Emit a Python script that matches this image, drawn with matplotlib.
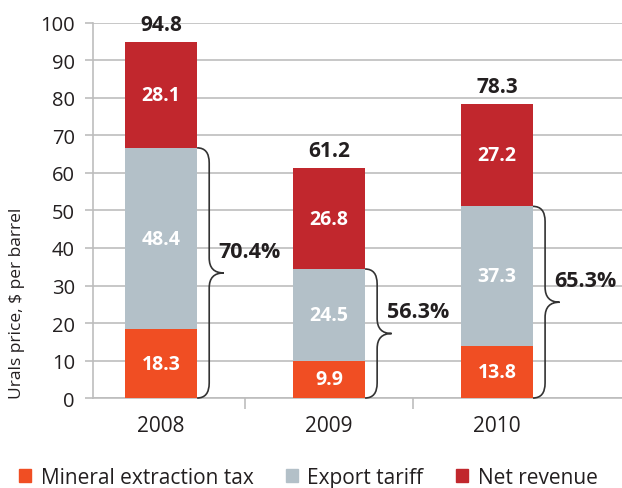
import matplotlib
matplotlib.use('Agg')
import matplotlib.pyplot as plt
from matplotlib.path import Path
from matplotlib.patches import PathPatch, Patch
import numpy as np

plt.rcParams['font.family'] = ['Open Sans', 'DejaVu Sans']

years = ['2008', '2009', '2010']
mineral_tax = [18.3, 9.9, 13.8]
export_tariff = [48.4, 24.5, 37.3]
net_revenue = [28.1, 26.8, 27.2]
totals = [94.8, 61.2, 78.3]
tax_share = ['70.4%', '56.3%', '65.3%']

c_tax = '#F04E23'
c_tariff = '#B3C0C8'
c_net = '#C1272D'
grid_c = '#BDBDBD'
txt_c = '#231F20'


def brace(ax, x0, y0, y1, half_w=0.072, tip_w=0.158, r=4.0):
    ym = (y0 + y1) / 2
    xm = x0 + half_w
    xt = x0 + tip_w
    verts = [(x0, y1),
             (xm, y1), (xm, y1 - r),
             (xm, ym + r),
             (xm, ym), (xt, ym),
             (xm, ym), (xm, ym - r),
             (xm, y0 + r),
             (xm, y0), (x0, y0)]
    codes = [Path.MOVETO,
             Path.CURVE3, Path.CURVE3,
             Path.LINETO,
             Path.CURVE3, Path.CURVE3,
             Path.CURVE3, Path.CURVE3,
             Path.LINETO,
             Path.CURVE3, Path.CURVE3]
    ax.add_patch(PathPatch(Path(verts, codes), fill=False, lw=1.2,
                           edgecolor='#333333', clip_on=False, zorder=4))
    return xt, ym


fig = plt.figure(figsize=(6.22, 4.89), dpi=100)
ax = fig.add_axes([0.1495, 0.184, 0.8505, 0.767])

x = np.arange(len(years))
w = 0.43
mineral_tax = np.array(mineral_tax)
export_tariff = np.array(export_tariff)
net_revenue = np.array(net_revenue)

ax.bar(x, mineral_tax, w, color=c_tax, zorder=3)
ax.bar(x, export_tariff, w, bottom=mineral_tax, color=c_tariff, zorder=3)
ax.bar(x, net_revenue, w, bottom=mineral_tax + export_tariff, color=c_net, zorder=3)

lab_kw = dict(ha='center', va='center', color='white', fontsize=14, fontweight='bold', zorder=5)
for i in range(len(years)):
    ax.text(x[i], mineral_tax[i] / 2, f'{mineral_tax[i]:.1f}', **lab_kw)
    ax.text(x[i], mineral_tax[i] + export_tariff[i] / 2, f'{export_tariff[i]:.1f}', **lab_kw)
    ax.text(x[i], mineral_tax[i] + export_tariff[i] + net_revenue[i] / 2, f'{net_revenue[i]:.1f}', **lab_kw)
    ax.text(x[i], totals[i] + 3.2, f'{totals[i]:.1f}', ha='center', va='baseline',
            fontsize=15, fontweight='bold', color=txt_c, clip_on=False)
    xt, ym = brace(ax, x[i] + w / 2, 0, mineral_tax[i] + export_tariff[i])
    ax.text(xt - 0.03, ym + 5.8, tax_share[i], ha='left', va='center',
            fontsize=15.5, fontweight='bold', color=txt_c, clip_on=False)

ax.set_xlim(-0.405, 2.745)
ax.set_ylim(0, 100)
ax.set_yticks(range(0, 101, 10))
ax.yaxis.grid(True, color=grid_c, lw=1.2, zorder=0)
ax.set_axisbelow(True)
ax.tick_params(axis='y', labelsize=14.5, length=6, width=1.2, color=grid_c,
               labelcolor=txt_c, pad=7)

ax.set_xticks(x)
ax.set_xticklabels(years, fontsize=15, color=txt_c)
ax.set_xticks([0.5, 1.5], minor=True)
ax.tick_params(axis='x', which='major', length=0, pad=12)
ax.tick_params(axis='x', which='minor', length=8, width=1.2, color=grid_c)

for s in ['top', 'right']:
    ax.spines[s].set_visible(False)
for s in ['left', 'bottom']:
    ax.spines[s].set_color(grid_c)
    ax.spines[s].set_linewidth(1.2)

ax.set_ylabel('Urals price, $ per barrel', fontsize=12.5, color=txt_c, loc='bottom')
ax.yaxis.set_label_coords(-0.129, 0.0)

handles = [Patch(color=c_tax, label='Mineral extraction tax'),
           Patch(color=c_tariff, label='Export tariff'),
           Patch(color=c_net, label='Net revenue')]
fig.legend(handles=handles, loc='center left', bbox_to_anchor=(0.03, 0.022), ncol=3,
           frameon=False, fontsize=15, handlelength=0.6, handleheight=0.6,
           handletextpad=0.45, columnspacing=1.55, labelcolor=txt_c,
           borderpad=0, borderaxespad=0)

fig.savefig('out.png', dpi=100)
